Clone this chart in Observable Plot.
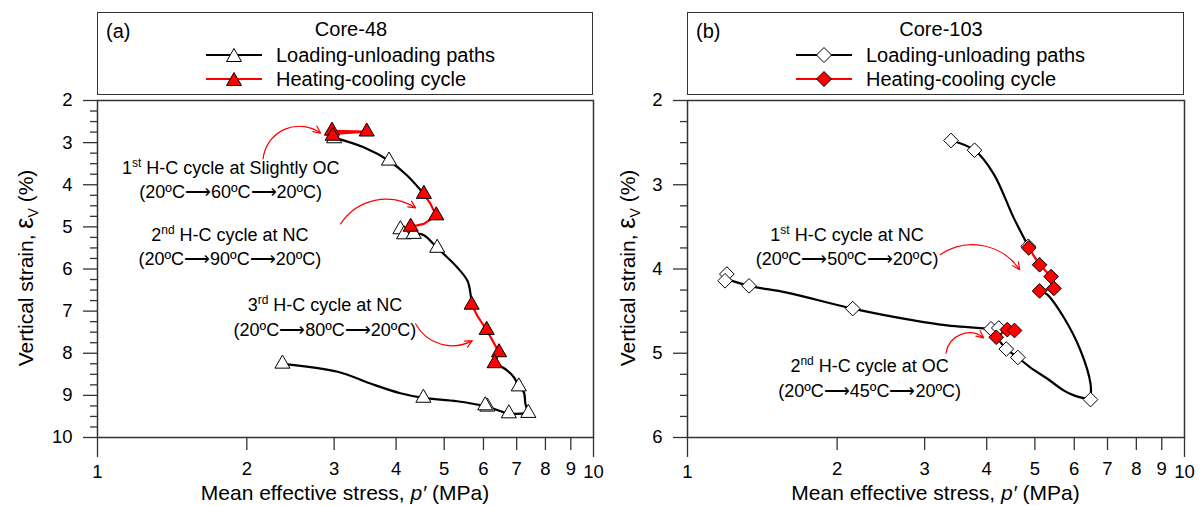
<!DOCTYPE html>
<html><head><meta charset="utf-8">
<script src="https://cdn.jsdelivr.net/npm/d3@7"></script>
<script src="https://cdn.jsdelivr.net/npm/@observablehq/plot@0.6"></script>
<style>
body{margin:0;background:#fff;font-family:"Liberation Sans",Arial,sans-serif;}
#wrap{position:relative;width:1204px;height:506px;overflow:hidden;background:#fff;}
.panel{position:absolute;top:90px;}
.legend{position:absolute;top:12px;height:83px;box-sizing:border-box;border:1.5px solid #333;font-size:20px;color:#000;}
.legend div{position:absolute;line-height:24px;white-space:nowrap;}
.legend svg{position:absolute;}
</style></head><body><div id="wrap"></div>
<script>
// ---------- Panel (a) Core-48 ----------
const aTitle = "Core-48";
const aTag = "(a)";
const aYMajor = [2, 3, 4, 5, 6, 7, 8, 9, 10];
// loading-unloading paths (black), segment id
const aLoadP = [3.0, 3.44, 3.87, 4.21, 4.55,   4.15, 4.34, 4.55, 4.84, 5.31, 5.57, 5.65, 5.68,   6.32, 6.70, 6.91, 7.07, 7.24, 7.29, 7.39,   7.39, 6.75, 6.11, 5.31, 4.54, 4.08, 3.55, 3.05, 2.36];
const aLoadE = [2.88, 3.11, 3.43, 3.78, 4.22,  5.18, 5.15, 5.20, 5.50, 5.96, 6.28, 6.59, 6.85,  8.24, 8.41, 8.57, 8.79, 8.93, 9.20, 9.42,  9.42, 9.43, 9.27, 9.14, 9.06, 8.95, 8.72, 8.44, 8.25];
const aLoadSeg = [1,1,1,1,1, 2,2,2,2,2,2,2,2, 3,3,3,3,3,3,3, 4,4,4,4,4,4,4,4,4];
const aLoadMarkP = [3.0, 3.87, 4.08, 4.15, 4.34, 4.84, 7.07, 7.39, 6.75, 6.11, 6.05, 4.54, 2.36];
const aLoadMarkE = [2.9, 3.43, 5.06, 5.18, 5.17, 5.50, 8.79, 9.42, 9.43, 9.27, 9.24, 9.06, 8.25];
// heating-cooling cycles (red)
const aHeatP = [2.98, 2.97, 3.49, 2.99,   4.55, 4.69, 4.82, 4.55, 4.28,   5.68, 5.83, 6.09, 6.45, 6.32];
const aHeatE = [2.86, 2.72, 2.74, 2.79,   4.22, 4.45, 4.73, 4.93, 5.00,   6.85, 7.11, 7.45, 7.98, 8.24];
const aHeatSeg = [1,1,1,1, 2,2,2,2,2, 3,3,3,3,3];
const aHeatMarkP = [2.97, 3.49, 2.98, 4.55, 4.82, 4.28, 5.68, 6.09, 6.45, 6.32];
const aHeatMarkE = [2.72, 2.74, 2.84, 4.22, 4.73, 5.00, 6.85, 7.45, 7.98, 8.24];
// annotations
const aNoteLine1 = ["1st H-C cycle at Slightly OC", "2nd H-C cycle at NC", "3rd H-C cycle at NC"];
const aNoteLine2 = ["(20ºC⟶60ºC⟶20ºC)", "(20ºC⟶90ºC⟶20ºC)", "(20ºC⟶80ºC⟶20ºC)"];
const aNoteP = [1.856, 1.849, 2.875];
const aNoteE1 = [3.615, 5.207, 6.869];
const aNoteE2 = [4.185, 5.78, 7.45];
const aArrowP1 = [2.157, 3.092, 4.38];
const aArrowE1 = [3.385, 4.929, 7.304];
const aArrowP2 = [2.818, 4.38, 5.696];
const aArrowE2 = [2.777, 4.55, 7.70];
const aArrowBend = [60, 45, -45];

// ---------- Panel (b) Core-103 ----------
const bTitle = "Core-103";
const bTag = "(b)";
const bYMajor = [2, 3, 4, 5, 6];
const bLoadP = [3.39, 3.78, 4.13, 4.53, 4.85,   5.11, 5.29, 5.71, 6.18, 6.47, 6.47,   6.47, 5.99, 5.71, 5.29, 4.90, 4.62, 4.38, 4.25,   4.08, 3.33, 2.85, 2.15, 1.585, 1.33, 1.20];
const bLoadE = [2.475, 2.59, 2.87, 3.39, 3.73,  4.26, 4.30, 4.57, 4.97, 5.36, 5.55,  5.55, 5.50, 5.44, 5.30, 5.17, 5.05, 4.95, 4.86,  4.71, 4.67, 4.61, 4.47, 4.28, 4.20, 4.12];
const bLoadSeg = [1,1,1,1,1, 2,2,2,2,2,2, 3,3,3,3,3,3,3,3, 4,4,4,4,4,4,4];
const bLoadMarkP = [3.39, 3.78, 4.85, 6.47, 4.62, 4.38, 4.08, 4.23, 2.15, 1.33, 1.20, 1.19];
const bLoadMarkE = [2.475, 2.59, 3.73, 5.55, 5.05, 4.95, 4.71, 4.70, 4.47, 4.20, 4.06, 4.14];
const bHeatP = [4.86, 5.11, 5.39, 5.46, 5.11,   4.25, 4.18, 4.40, 4.55, 4.23, 4.08];
const bHeatE = [3.75, 3.95, 4.09, 4.23, 4.26,   4.86, 4.81, 4.72, 4.73, 4.70, 4.71];
const bHeatSeg = [1,1,1,1,1, 2,2,2,2,2,2];
const bHeatMarkP = [4.86, 5.11, 5.39, 5.46, 5.11, 4.18, 4.40, 4.55];
const bHeatMarkE = [3.75, 3.95, 4.09, 4.23, 4.26, 4.81, 4.72, 4.73];
const bNoteLine1 = ["1st H-C cycle at NC", "2nd H-C cycle at OC"];
const bNoteLine2 = ["(20ºC⟶50ºC⟶20ºC)", "(20ºC⟶45ºC⟶20ºC)"];
const bNoteP = [2.094, 2.325];
const bNoteE1 = [3.594, 5.157];
const bNoteE2 = [3.887, 5.454];
const bArrowP1 = [3.227, 3.313];
const bArrowE1 = [3.828, 5.0];
const bArrowP2 = [4.66, 3.944];
const bArrowE2 = [4.01, 4.817];
const bArrowBend = [45, 60];

const xMajor = [1, 10];
const xMinor = [2, 3, 4, 5, 6, 7, 8, 9];
const legendLabels = ["Loading-unloading paths", "Heating-cooling cycle"];
const RED = "#ff0000";
const FONT = '"Liberation Sans", Arial, sans-serif';

function rows(P, E, S) { return P.map((p, i) => ({p, e: E[i], s: S ? S[i] : 0})); }

function makePanel(c) {
  const yMin = c.yMajor[0], yMax = c.yMajor[c.yMajor.length - 1];
  const minors = d3.range(yMin, yMax + 0.001, 0.25).filter(v => Math.abs(v - Math.round(v)) > 1e-6);
  const notes1 = c.note1.map((t, i) => ({t, p: c.noteP[i], e: c.noteE1[i]}));
  const notes2 = c.note2.map((t, i) => ({t, p: c.noteP[i], e: c.noteE2[i]}));
  const arrows = c.arP1.map((p, i) => ({p1: p, e1: c.arE1[i], p2: c.arP2[i], e2: c.arE2[i], b: c.arBend[i]}));
  const axOpts = (o) => Object.assign({label: null, stroke: "#333", strokeWidth: 1.3, fill: "#000", fontSize: 18.5}, o);
  const marks = [
    Plot.axisX(axOpts({ticks: xMajor, tickSize: 20, tickPadding: 7, tickFormat: d => String(d)})),
    Plot.axisX(axOpts({ticks: xMinor, tickSize: 13, tickPadding: 11, tickFormat: d => String(d)})),
    Plot.axisY(axOpts({ticks: c.yMajor, tickSize: 14, tickPadding: 11, tickFormat: d => String(d)})),
    Plot.axisY(axOpts({ticks: minors, tickSize: 7, tickFormat: () => ""})),
    Plot.frame({stroke: "#333", strokeWidth: 1.5}),
    Plot.line(rows(c.loadP, c.loadE, c.loadSeg), {x: "p", y: "e", z: "s", stroke: "#000", strokeWidth: 2.2, curve: "catmull-rom"}),
    Plot.line(rows(c.heatP, c.heatE, c.heatSeg), {x: "p", y: "e", z: "s", stroke: RED, strokeWidth: 2.2, curve: "linear"}),
    Plot.dot(rows(c.loadMarkP, c.loadMarkE), {x: "p", y: "e", symbol: c.symbol, r: c.r, fill: "#fff", stroke: "#000", strokeWidth: 1}),
    Plot.dot(rows(c.heatMarkP, c.heatMarkE), {x: "p", y: "e", symbol: c.symbol, r: c.r, fill: RED, stroke: "#000", strokeWidth: 1}),
    ...arrows.map(a => Plot.arrow([a], {x1: "p1", y1: "e1", x2: "p2", y2: "e2", bend: a.b, stroke: RED, strokeWidth: 1.2, headLength: 10, headAngle: 50})),
    Plot.text(notes1, {x: "p", y: "e", text: "t", fontSize: 18, fill: "#000", textAnchor: "middle"}),
    Plot.text(notes2, {x: "p", y: "e", text: "t", fontSize: 18, fill: "#000", textAnchor: "middle"})
  ];
  const svg = Plot.plot({
    width: c.width, height: 416, marginTop: 10, marginBottom: 69, marginLeft: c.ml, marginRight: c.mr,
    style: {fontFamily: FONT, fontSize: "18px", background: "transparent", color: "#000", overflow: "visible"},
    x: {type: "log", domain: [1, 10], label: null},
    y: {domain: [yMin, yMax], reverse: true, label: null},
    marks
  });
  const s = d3.select(svg);
  s.selectAll("text").each(function () {
    if (this.querySelector("tspan")) return;
    const m = this.textContent.match(/^(\d)(st|nd|rd)( .*)$/);
    if (!m) return;
    const t = d3.select(this);
    t.text(null);
    t.append("tspan").text(m[1]);
    t.append("tspan").attr("dy", -7).attr("font-size", 12).text(m[2]);
    t.append("tspan").attr("dy", 7).text(m[3]);
  });
  const cx = (c.ml + c.width - c.mr) / 2;
  const xt = s.append("text").attr("x", cx).attr("y", 410).attr("text-anchor", "middle")
    .attr("font-size", 21).attr("font-family", FONT).attr("fill", "#000");
  xt.append("tspan").text("Mean effective stress, ");
  xt.append("tspan").attr("font-style", "italic").text("p′");
  xt.append("tspan").text(" (MPa)");
  const yt = s.append("text").attr("transform", `translate(${c.ytx},178) rotate(-90)`).attr("text-anchor", "middle")
    .attr("dy", "0.35em").attr("font-size", 21).attr("font-family", FONT).attr("fill", "#000");
  yt.append("tspan").text("Vertical strain, ");
  yt.append("tspan").attr("font-size", 25).text("ε");
  yt.append("tspan").attr("font-size", 14).attr("dy", 5).text("V");
  yt.append("tspan").attr("dy", -5).text(" (%)");
  return svg;
}

function makeLegend(left, width, tag, title, kind) {
  const box = document.createElement("div");
  box.className = "legend";
  box.style.left = left + "px";
  box.style.width = width + "px";
  const sym = kind === "tri"
    ? (f) => `<polygon points="28,3.5 20.5,16.5 35.5,16.5" fill="${f}" stroke="#000" stroke-width="1"/>`
    : (f) => `<polygon points="28,2.5 35.5,10 28,17.5 20.5,10" fill="${f}" stroke="#000" stroke-width="1"/>`;
  box.innerHTML =
    `<div style="left:8px;top:6px">${tag}</div>` +
    `<div style="left:${253}px;top:4px;transform:translateX(-50%)">${title}</div>` +
    `<svg width="56" height="20" style="left:108px;top:32px"><line x1="0" x2="56" y1="10" y2="10" stroke="#000" stroke-width="2"/>${sym("#fff")}</svg>` +
    `<div style="left:178px;top:30px">${legendLabels[0]}</div>` +
    `<svg width="56" height="20" style="left:108px;top:56px"><line x1="0" x2="56" y1="10" y2="10" stroke="${RED}" stroke-width="2"/>${sym(RED)}</svg>` +
    `<div style="left:178px;top:54px">${legendLabels[1]}</div>`;
  return box;
}

const wrap = document.getElementById("wrap");
const svgA = makePanel({
  width: 600, ml: 97, mr: 7, ytx: 26, yMajor: aYMajor, symbol: "triangle", r: 5.6,
  loadP: aLoadP, loadE: aLoadE, loadSeg: aLoadSeg, loadMarkP: aLoadMarkP, loadMarkE: aLoadMarkE,
  heatP: aHeatP, heatE: aHeatE, heatSeg: aHeatSeg, heatMarkP: aHeatMarkP, heatMarkE: aHeatMarkE,
  note1: aNoteLine1, note2: aNoteLine2, noteP: aNoteP, noteE1: aNoteE1, noteE2: aNoteE2,
  arP1: aArrowP1, arE1: aArrowE1, arP2: aArrowP2, arE2: aArrowE2, arBend: aArrowBend
});
svgA.classList.add("panel"); svgA.style.left = "0px";
const svgB = makePanel({
  width: 604, ml: 87, mr: 20, ytx: 28, yMajor: bYMajor, symbol: "diamond2", r: 6.6,
  loadP: bLoadP, loadE: bLoadE, loadSeg: bLoadSeg, loadMarkP: bLoadMarkP, loadMarkE: bLoadMarkE,
  heatP: bHeatP, heatE: bHeatE, heatSeg: bHeatSeg, heatMarkP: bHeatMarkP, heatMarkE: bHeatMarkE,
  note1: bNoteLine1, note2: bNoteLine2, noteP: bNoteP, noteE1: bNoteE1, noteE2: bNoteE2,
  arP1: bArrowP1, arE1: bArrowE1, arP2: bArrowP2, arE2: bArrowE2, arBend: bArrowBend
});
svgB.classList.add("panel"); svgB.style.left = "600px";
wrap.appendChild(svgA);
wrap.appendChild(svgB);
wrap.appendChild(makeLegend(97, 496, aTag, aTitle, "tri"));
wrap.appendChild(makeLegend(687, 497, bTag, bTitle, "dia"));
</script></body></html>
